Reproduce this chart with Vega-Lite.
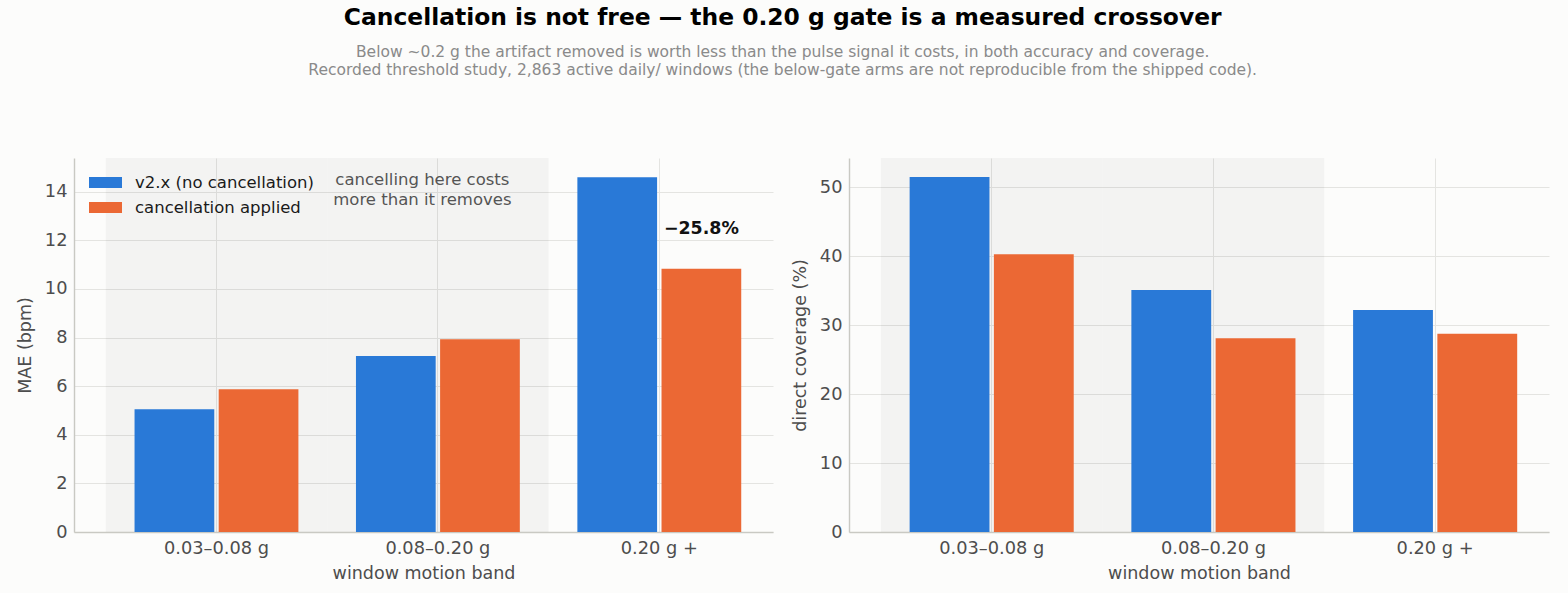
{
  "$schema": "https://vega.github.io/schema/vega-lite/v6.json",
  "background": "#fcfcfb",
  "padding": {"left": 16, "top": 6, "right": 19, "bottom": 10},
  "title": {
    "text": "Cancellation is not free — the 0.20 g gate is a measured crossover",
    "subtitle": [
      "Below ~0.2 g the artifact removed is worth less than the pulse signal it costs, in both accuracy and coverage.",
      "Recorded threshold study, 2,863 active daily/ windows (the below-gate arms are not reproducible from the shipped code)."
    ],
    "anchor": "middle",
    "offset": 79
  },
  "datasets": {
    "mae": [
      {"band": "0.03–0.08 g", "series": "v2.x (no cancellation)", "value": 5.05},
      {"band": "0.03–0.08 g", "series": "cancellation applied", "value": 5.87},
      {"band": "0.08–0.20 g", "series": "v2.x (no cancellation)", "value": 7.24},
      {"band": "0.08–0.20 g", "series": "cancellation applied", "value": 7.93},
      {"band": "0.20 g +", "series": "v2.x (no cancellation)", "value": 14.6},
      {"band": "0.20 g +", "series": "cancellation applied", "value": 10.83}
    ],
    "coverage": [
      {"band": "0.03–0.08 g", "series": "v2.x (no cancellation)", "value": 51.5},
      {"band": "0.03–0.08 g", "series": "cancellation applied", "value": 40.3},
      {"band": "0.08–0.20 g", "series": "v2.x (no cancellation)", "value": 35.1},
      {"band": "0.08–0.20 g", "series": "cancellation applied", "value": 28.1},
      {"band": "0.20 g +", "series": "v2.x (no cancellation)", "value": 32.2},
      {"band": "0.20 g +", "series": "cancellation applied", "value": 28.75}
    ],
    "shade": [
      {"band": "0.03–0.08 g"},
      {"band": "0.08–0.20 g"}
    ],
    "note": [
      {"band": "0.08–0.20 g", "note": ["cancelling here costs", "more than it removes"]}
    ],
    "gain": [
      {"band": "0.20 g +", "series": "cancellation applied", "label": "−25.8%"}
    ]
  },
  "spacing": 18,
  "resolve": {
    "scale": {"x": "independent", "y": "independent", "xOffset": "independent", "color": "independent"},
    "axis": {"x": "independent", "y": "independent"},
    "legend": {"color": "independent"}
  },
  "hconcat": [
    {
      "width": 699,
      "height": 374,
      "encoding": {
        "x": {
          "field": "band",
          "type": "nominal",
          "scale": {"type": "band", "domain": ["0.03–0.08 g", "0.08–0.20 g", "0.20 g +"], "paddingInner": 0, "paddingOuter": 0.0785, "align": 0.914},
          "title": "window motion band"
        }
      },
      "layer": [
        {
          "data": {"name": "shade"},
          "mark": {"type": "bar", "color": "#000000", "opacity": 0.035},
          "encoding": {
            "y": {"datum": 15.39, "type": "quantitative", "title": "MAE (bpm)", "scale": {"domain": [0, 15.39], "nice": false}, "axis": {"values": [0, 2, 4, 6, 8, 10, 12, 14]}},
            "y2": {"datum": 0}
          }
        },
        {
          "data": {"name": "mae"},
          "mark": "bar",
          "encoding": {
            "xOffset": {
              "field": "series",
              "type": "nominal",
              "scale": {"domain": ["v2.x (no cancellation)", "cancellation applied"], "paddingInner": 0.0526, "paddingOuter": 0.342}
            },
            "y": {"field": "value", "type": "quantitative", "title": "MAE (bpm)"},
            "color": {
              "field": "series",
              "type": "nominal",
              "scale": {"domain": ["v2.x (no cancellation)", "cancellation applied"], "range": ["#2979d7", "#eb6834"]},
              "legend": {
                "title": null,
                "orient": "none",
                "legendX": 15,
                "legendY": 8,
                "symbolType": "M-1,-0.3333L1,-0.3333L1,0.3333L-1,0.3333Z",
                "symbolSize": 1089,
                "symbolStrokeWidth": 0,
                "symbolOpacity": 1,
                "labelFont": "DejaVu Sans",
                "labelFontSize": 16.5,
                "labelColor": "#1a1a1a",
                "labelOffset": 13,
                "labelLimit": 400,
                "rowPadding": -5,
                "padding": 0
              }
            }
          }
        },
        {
          "data": {"name": "note"},
          "mark": {"type": "text", "align": "center", "baseline": "top", "fontSize": 16.5, "color": "#555555", "lineHeight": 20},
          "encoding": {
            "x": {"field": "band", "type": "nominal", "bandPosition": 0.43},
            "y": {"datum": 14.8, "type": "quantitative", "title": "MAE (bpm)"},
            "text": {"field": "note"}
          }
        },
        {
          "data": {"name": "gain"},
          "mark": {"type": "text", "align": "center", "baseline": "middle", "fontSize": 17.4, "fontWeight": "bold", "color": "#111111"},
          "encoding": {
            "xOffset": {"field": "series", "type": "nominal", "scale": {"domain": ["v2.x (no cancellation)", "cancellation applied"]}},
            "y": {"datum": 12.47, "type": "quantitative", "title": "MAE (bpm)"},
            "text": {"field": "label"}
          }
        }
      ]
    },
    {
      "width": 700,
      "height": 374,
      "encoding": {
        "x": {
          "field": "band",
          "type": "nominal",
          "scale": {"type": "band", "domain": ["0.03–0.08 g", "0.08–0.20 g", "0.20 g +"], "paddingInner": 0, "paddingOuter": 0.0785, "align": 0.914},
          "title": "window motion band"
        }
      },
      "layer": [
        {
          "data": {"name": "shade"},
          "mark": {"type": "bar", "color": "#000000", "opacity": 0.035},
          "encoding": {
            "y": {"datum": 54.25, "type": "quantitative", "title": "direct coverage (%)", "scale": {"domain": [0, 54.25], "nice": false}, "axis": {"values": [0, 10, 20, 30, 40, 50]}},
            "y2": {"datum": 0}
          }
        },
        {
          "data": {"name": "coverage"},
          "mark": "bar",
          "encoding": {
            "xOffset": {
              "field": "series",
              "type": "nominal",
              "scale": {"domain": ["v2.x (no cancellation)", "cancellation applied"], "paddingInner": 0.0526, "paddingOuter": 0.342}
            },
            "y": {"field": "value", "type": "quantitative", "title": "direct coverage (%)"},
            "color": {
              "field": "series",
              "type": "nominal",
              "scale": {"domain": ["v2.x (no cancellation)", "cancellation applied"], "range": ["#2979d7", "#eb6834"]},
              "legend": null
            }
          }
        }
      ]
    }
  ],
  "config": {
    "view": {"stroke": null},
    "font": "DejaVu Sans",
    "title": {
      "font": "DejaVu Sans",
      "fontSize": 23.4,
      "fontWeight": "bold",
      "color": "#000000",
      "subtitleFont": "DejaVu Sans",
      "subtitleFontSize": 15.5,
      "subtitleColor": "#8a8a8a",
      "subtitlePadding": 14,
      "subtitleLineHeight": 18
    },
    "axis": {
      "domainColor": "#c9c9c3",
      "domainWidth": 1.4,
      "ticks": false,
      "grid": true,
      "gridColor": "#e4e4e1",
      "gridWidth": 1,
      "labelFont": "DejaVu Sans",
      "labelFontSize": 17.8,
      "labelColor": "#4d4d4d",
      "labelPadding": 7,
      "titleFont": "DejaVu Sans",
      "titleFontSize": 17.5,
      "titleFontWeight": "normal",
      "titleColor": "#4d4d4d"
    },
    "axisX": {"labelAngle": 0, "bandPosition": 0.5, "titlePadding": 8},
    "axisY": {"titlePadding": 10}
  }
}
